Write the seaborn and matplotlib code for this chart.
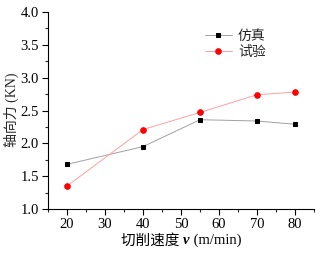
import matplotlib
matplotlib.use('Agg')
import matplotlib.pyplot as plt
import seaborn as sns
import pandas as pd
from matplotlib.ticker import MultipleLocator
from matplotlib.offsetbox import TextArea, HPacker, AnchoredOffsetbox

sns.set_style('ticks')
plt.rcParams['font.family'] = ['Liberation Serif', 'Noto Sans CJK SC']
plt.rcParams['axes.unicode_minus'] = False

# Data
speed = [20, 40, 55, 70, 80]
sim_force = [1.68, 1.95, 2.36, 2.34, 2.29]
exp_force = [1.35, 2.21, 2.47, 2.74, 2.78]

df = pd.DataFrame({
    'speed': speed * 2,
    'force': sim_force + exp_force,
    'series': ['仿真'] * len(speed) + ['试验'] * len(speed),
})

fig = plt.figure(figsize=(3.21, 2.58), dpi=100)
ax = fig.add_axes([48 / 321, 49 / 258, 266 / 321, 197 / 258])

sns.lineplot(data=df[df.series == '仿真'], x='speed', y='force', ax=ax,
             color='#a0a0a0', linewidth=0.7, marker='s', markersize=3.5,
             markerfacecolor='black', markeredgecolor='black', label='仿真')
sns.lineplot(data=df[df.series == '试验'], x='speed', y='force', ax=ax,
             color='#ffa0a0', linewidth=0.7, marker='o', markersize=4,
             markerfacecolor='red', markeredgecolor='red', label='试验')

ax.set_xlim(15, 85)
ax.set_ylim(1.0, 4.0)
ax.xaxis.set_minor_locator(MultipleLocator(5))
ax.yaxis.set_minor_locator(MultipleLocator(0.25))
ax.set_xticks([20, 30, 40, 50, 60, 70, 80])
ax.set_yticks([1.0, 1.5, 2.0, 2.5, 3.0, 3.5, 4.0])
ax.set_yticklabels([f'{v:.1f}' for v in ax.get_yticks()])
ax.tick_params(which='major', direction='out', length=4, width=0.8,
               labelsize=10.5, colors='black', pad=2.5)
ax.tick_params(which='minor', direction='out', length=2, width=0.8)

for s in ['top', 'right']:
    ax.spines[s].set_visible(False)
for s in ['left', 'bottom']:
    ax.spines[s].set_linewidth(0.8)
    ax.spines[s].set_color('black')

# x label with bold italic v
ax.set_xlabel('')
parts = [
    TextArea('切削速度 ', textprops=dict(fontsize=10.5, color='black')),
    TextArea('v', textprops=dict(fontsize=10.5, color='black',
                                 fontweight='bold', fontstyle='italic')),
    TextArea(' (m/min)', textprops=dict(fontsize=10.5, color='black')),
]
box = HPacker(children=parts, align='baseline', pad=0, sep=0)
anchored = AnchoredOffsetbox(loc='center', child=box, frameon=False, pad=0,
                             bbox_to_anchor=(0.5, -0.16),
                             bbox_transform=ax.transAxes, borderpad=0)
ax.add_artist(anchored)

ax.set_ylabel('')
fig.text(11 / 321, 1 - 110 / 258, '轴向力 (KN)', fontsize=10,
         rotation=90, ha='center', va='center')

ax.legend(loc='upper right', bbox_to_anchor=(0.865, 0.975), frameon=False,
          fontsize=10, handlelength=2.0, handletextpad=0.4, labelspacing=0.25)

fig.savefig('out.png', dpi=100)
